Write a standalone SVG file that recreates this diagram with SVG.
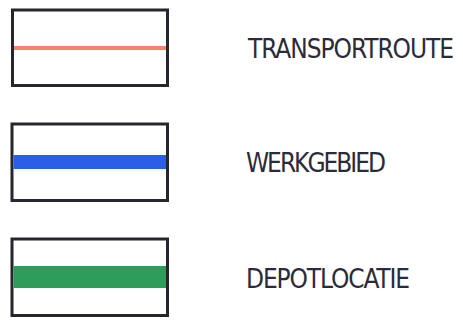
<svg xmlns="http://www.w3.org/2000/svg" width="463" height="323" viewBox="0 0 463 323">
<style>
.box{fill:#fff;stroke:#26262e;stroke-width:3}
.lbl{font-family:"DejaVu Sans Condensed","DejaVu Sans",sans-serif;font-size:26px;fill:#2b2b3a}
</style>
<rect width="463" height="323" fill="#fff"/>
<g id="transportroute">
<rect class="box" x="12.5" y="10" width="155" height="75.5"/>
<line x1="14" y1="48" x2="166" y2="48" stroke="#f7836f" stroke-width="4"/>
<text class="lbl" x="248" y="58" textLength="206" lengthAdjust="spacing">TRANSPORTROUTE</text>
</g>
<g id="werkgebied">
<rect class="box" x="12" y="124" width="155.5" height="76.5"/>
<rect x="13.5" y="155" width="152.5" height="14" fill="#2b5ee8"/>
<text class="lbl" x="246" y="172" textLength="140" lengthAdjust="spacing">WERKGEBIED</text>
</g>
<g id="depotlocatie">
<rect class="box" x="12" y="239" width="155.5" height="76.5"/>
<rect x="13.5" y="266" width="152.5" height="22" fill="#2e9d5c"/>
<text class="lbl" x="246" y="288" textLength="164" lengthAdjust="spacing">DEPOTLOCATIE</text>
</g>
<g id="connectors"/>
</svg>
